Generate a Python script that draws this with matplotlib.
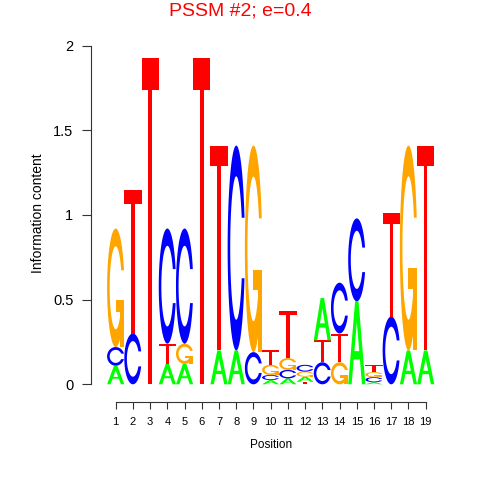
import numpy as np
import matplotlib
matplotlib.use('Agg')
import matplotlib.pyplot as plt
from matplotlib.patches import Polygon

# ---------------- data ----------------
positions = list(range(1, 20))
bases = ['A', 'C', 'G', 'T']
ic_A = [0.11, 0.00, 0.00, 0.12, 0.12, 0.00, 0.20, 0.20, 0.00, 0.025, 0.035, 0.03, 0.13, 0.00, 0.49, 0.012, 0.00, 0.20, 0.20]
ic_C = [0.11, 0.30, 0.00, 0.68, 0.68, 0.00, 0.00, 1.21, 0.19, 0.03, 0.05, 0.04, 0.13, 0.30, 0.49, 0.03, 0.40, 0.00, 0.00]
ic_G = [0.70, 0.00, 0.00, 0.00, 0.12, 0.00, 0.00, 0.00, 1.22, 0.06, 0.07, 0.03, 0.00, 0.13, 0.00, 0.03, 0.00, 1.21, 0.00]
ic_T = [0.00, 0.85, 1.93, 0.12, 0.00, 1.93, 1.21, 0.00, 0.00, 0.085, 0.28, 0.015, 0.13, 0.17, 0.00, 0.04, 0.61, 0.00, 1.21]
ic_A[12] = 0.25  # position 13: A on top of C and T
y_ticks = [0, 0.5, 1, 1.5, 2]
y_tick_labels = ['0', '0.5', '1', '1.5', '2']
title = 'PSSM #2; e=0.4'

colors = {'A': '#00FF00', 'C': '#0000FF', 'G': '#FFA500', 'T': '#FF0000'}

# ---------------- letter shapes (unit box) ----------------
def c_outline():
    a1 = np.linspace(0.3 + np.pi / 2, np.pi, 100)
    a2 = np.linspace(np.pi, 1.5 * np.pi, 100)
    xl1 = 0.5 + 0.5 * np.sin(a1); yl1 = 0.5 + 0.5 * np.cos(a1)
    xl2 = 0.5 + 0.5 * np.sin(a2); yl2 = 0.5 + 0.5 * np.cos(a2)
    xl = np.concatenate([xl1, xl2]); yl = np.concatenate([yl1, yl2])
    x = np.concatenate([xl, xl[::-1]]); y = np.concatenate([yl, 1 - yl[::-1]])
    xi1 = 0.5 + 0.35 * np.sin(a1); yi1 = 0.5 + 0.35 * np.cos(a1)
    m = yi1 <= yl1.max()
    xi1 = xi1[m]; yi1 = yi1[m].copy(); yi1[0] = yl1.max()
    xi2 = 0.5 + 0.35 * np.sin(a2); yi2 = 0.5 + 0.35 * np.cos(a2)
    xi = np.concatenate([xi1, xi2]); yi = np.concatenate([yi1, yi2])
    x1 = np.concatenate([xi, xi[::-1]]); y1 = np.concatenate([yi, 1 - yi[::-1]])
    x = np.concatenate([x, x1[::-1]]); y = np.concatenate([y, y1[::-1]])
    return np.column_stack([x, y]), xl1.max()


def shapes(base):
    if base == 'A':
        outer = np.array([(0, 0), (4, 10), (6, 10), (10, 0), (8, 0), (6.8, 3), (3.2, 3), (2, 0), (0, 0)]) / 10
        hole = np.array([(3.6, 4), (5, 7.5), (6.4, 4)]) / 10
        return [(outer, colors['A']), (hole, 'white')]
    if base == 'T':
        t = np.array([(0, 10), (10, 10), (10, 9), (6, 9), (6, 0), (4, 0), (4, 9), (0, 9)]) / 10
        return [(t, colors['T'])]
    if base == 'C':
        c, _ = c_outline()
        return [(c, colors['C'])]
    c, r1 = c_outline()
    h1 = 0.4
    add = np.column_stack([[r1, 0.5, 0.5, r1 - 0.2, r1 - 0.2, r1, r1],
                           [h1, h1, h1 - 0.1, h1 - 0.1, 0, 0, h1]])
    return [(c[::-1], colors['G']), (add, colors['G'])]

# ---------------- figure ----------------
W = H = 480
fig = plt.figure(figsize=(4.8, 4.8), dpi=100)
ax_left, ax_right, ax_top, ax_bot = 90.7, 450.0, 40.0, 402.0
ax = fig.add_axes([ax_left / W, 1 - ax_bot / H, (ax_right - ax_left) / W, (ax_bot - ax_top) / H])
px_x = 17.222; x1px = 115.7
px_y = 169.3; y0px = 384.3
ax.set_xlim(1 - (x1px - ax_left) / px_x, 1 + (ax_right - x1px) / px_x)
ax.set_ylim(-(ax_bot - y0px) / px_y, (y0px - ax_top) / px_y)

heights = np.array([ic_A, ic_C, ic_G, ic_T])
for j, pos in enumerate(positions):
    h = heights[:, j]
    order = np.argsort(h, kind='stable')
    ybase = 0.0
    for k in order:
        if h[k] <= 0:
            continue
        for xy, col in shapes(bases[k]):
            pts = np.column_stack([pos - 0.5 + xy[:, 0], ybase + h[k] * xy[:, 1]])
            ax.add_patch(Polygon(pts, closed=True, facecolor=col, edgecolor='none', lw=0))
        ybase += h[k]

for s in ['top', 'right']:
    ax.spines[s].set_visible(False)
ax.spines['left'].set_bounds(0, 2)
ax.spines['bottom'].set_bounds(positions[0], positions[-1])
for s in ['left', 'bottom']:
    ax.spines[s].set_linewidth(0.8)
    ax.spines[s].set_color('#333333')

ax.set_yticks(y_ticks)
ax.set_yticklabels(y_tick_labels)
ax.set_xticks(positions)
ax.set_xticklabels([str(p) for p in positions])
ax.tick_params(axis='y', length=6.5, width=0.8, pad=6, labelsize=10.5, color='#333333')
ax.tick_params(axis='x', length=4.8, width=0.8, pad=6, labelsize=8, color='#333333')
for lab in ax.get_xticklabels() + ax.get_yticklabels():
    lab.set_fontfamily('Liberation Sans')

fig.text(38 / W, 1 - 213 / H, 'Information content', rotation=90, ha='center', va='center',
         fontsize=10, family='Liberation Sans')
fig.text(271 / W, 1 - 445 / H, 'Position', ha='center', va='center', fontsize=8.5,
         family='Liberation Sans')
fig.text(0.5, 1 - 15 / H, title, ha='center', va='baseline', fontsize=14,
         color='#FF0000', family='Liberation Sans')

fig.savefig('out.png', dpi=100)
